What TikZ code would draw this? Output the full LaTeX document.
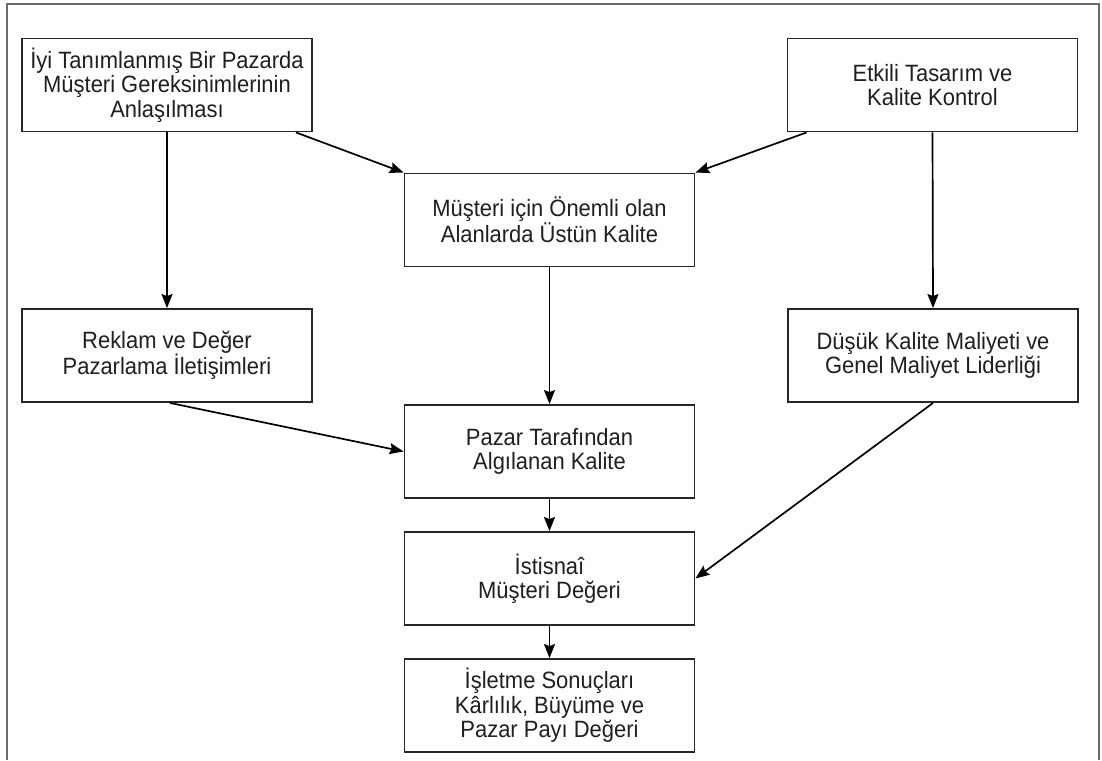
\documentclass[tikz,border=0pt]{standalone}
\usepackage{fontspec}
\setmainfont{Liberation Sans}
% slightly condensed face for the box labels
\newfontfamily\boxfont[FakeStretch=0.93]{Liberation Sans}
\usetikzlibrary{arrows.meta,calc}
\begin{document}
\begin{tikzpicture}[x=1pt,y=-1pt,
  box/.style={draw=black!85,line width=1.9pt,fill=white,rectangle,
    minimum width=290pt,minimum height=93pt,inner sep=0pt,align=center,
    font=\boxfont\fontsize{23.6}{24.4}\selectfont,text=black!88},
  link/.style={line width=1.7pt,-{Stealth[length=14pt,width=11pt,inset=2pt]}}]
\useasboundingbox (0,0) rectangle (1102,760);
\fill[white] (0,0) rectangle (1102,760);
% outer frame, open at the bottom
\draw[gray!85!black,line width=2.4pt] (7,760) -- (7,4) -- (1099,4) -- (1099,760);

\node[box] (b1) at (167,85)    {İyi Tanımlanmış Bir Pazarda\\Müşteri Gereksinimlerinin\\Anlaşılması};
\node[box] (b2) at (932.5,85)  {Etkili Tasarım ve\\ Kalite Kontrol};
\node[box] (b3) at (549.5,220) {Müşteri için Önemli olan\\Alanlarda Üstün Kalite};
\node[box] (b4) at (167,355.5) {Reklam ve Değer\\Pazarlama İletişimleri};
\node[box] (b5) at (933,355.5) {Düşük Kalite Maliyeti ve\\Genel Maliyet Liderliği};
\node[box] (b6) at (549.5,451.5) {Pazar Tarafından\\Algılanan Kalite};
\node[box] (b7) at (549.5,578.5) {İstisnaî\\Müşteri Değeri};
\node[box] (b8) at (549.5,705.5) {İşletme Sonuçları\\Kârlılık, Büyüme ve\\Pazar Payı Değeri};

\draw[link] ($(b1.south east)+(-17,0)$) -- (b3.north west);
\draw[link] ($(b2.south west)+(20,0)$) -- (b3.north east);
\draw[link] (b1.south) -- (b4.north);
\draw[link] (b2.south) -- (b5.north);
\draw[link] (b3.south) -- (b6.north);
\draw[link] ($(b4.south)+(3,0)$) -- (b6.west);
\draw[link] (b5.south) -- (b7.east);
\draw[link] (b6.south) -- (b7.north);
\draw[link] (b7.south) -- (b8.north);
\end{tikzpicture}
\end{document}
